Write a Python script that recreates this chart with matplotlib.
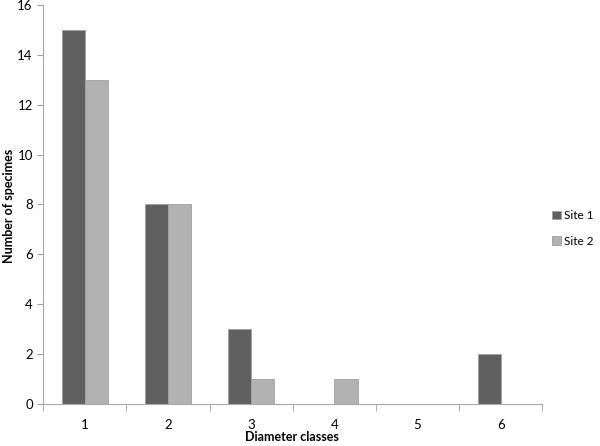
import matplotlib.pyplot as plt
import numpy as np

plt.rcParams['font.family'] = ['Lato', 'DejaVu Sans']

classes = ['1', '2', '3', '4', '5', '6']
site_1 = [15, 8, 3, 0, 0, 2]
site_2 = [13, 8, 1, 1, 0, 0]

x = np.arange(1, len(classes) + 1)
w = 0.28

fig = plt.figure(figsize=(6, 4.46), dpi=100)
ax = fig.add_axes([0.072, 0.094, 0.832, 0.895])

ax.bar(x - w / 2, site_1, w, color='#606060', edgecolor='#a0a0a0', linewidth=0.6, label='Site 1')
ax.bar(x + w / 2, site_2, w, color='#b2b2b2', edgecolor='#a0a0a0', linewidth=0.6, label='Site 2')

ax.set_xlim(0.5, 6.5)
ax.set_ylim(0, 16)
ax.set_yticks(range(0, 17, 2))
ax.set_xticks(x)
ax.set_xticklabels(classes)
ax.set_xticks(np.arange(0.5, 7, 1), minor=True)
ax.tick_params(axis='x', which='major', length=0, pad=11, labelsize=9.5)
ax.tick_params(axis='x', which='minor', length=5, color='#a0a0a0', direction='out')
ax.tick_params(axis='y', length=4, color='#a0a0a0', labelsize=9.5)

for s in ['top', 'right']:
    ax.spines[s].set_visible(False)
for s in ['left', 'bottom']:
    ax.spines[s].set_color('#a8a8a8')

fig.text(292 / 600, 1 - 437 / 446, 'Diameter classes', fontweight='bold', fontsize=9,
         ha='center', va='center')
fig.text(9 / 600, 1 - 206 / 446, 'Number of specimes', fontweight='bold', fontsize=9,
         ha='center', va='center', rotation=90)

ax.legend(loc='center left', bbox_to_anchor=(1.02, 0.44), frameon=False, fontsize=8.5,
          borderpad=0, borderaxespad=0,
          handlelength=0.7, handleheight=0.7, handletextpad=0.3, labelspacing=1.2)

plt.savefig('out.png', dpi=100)
